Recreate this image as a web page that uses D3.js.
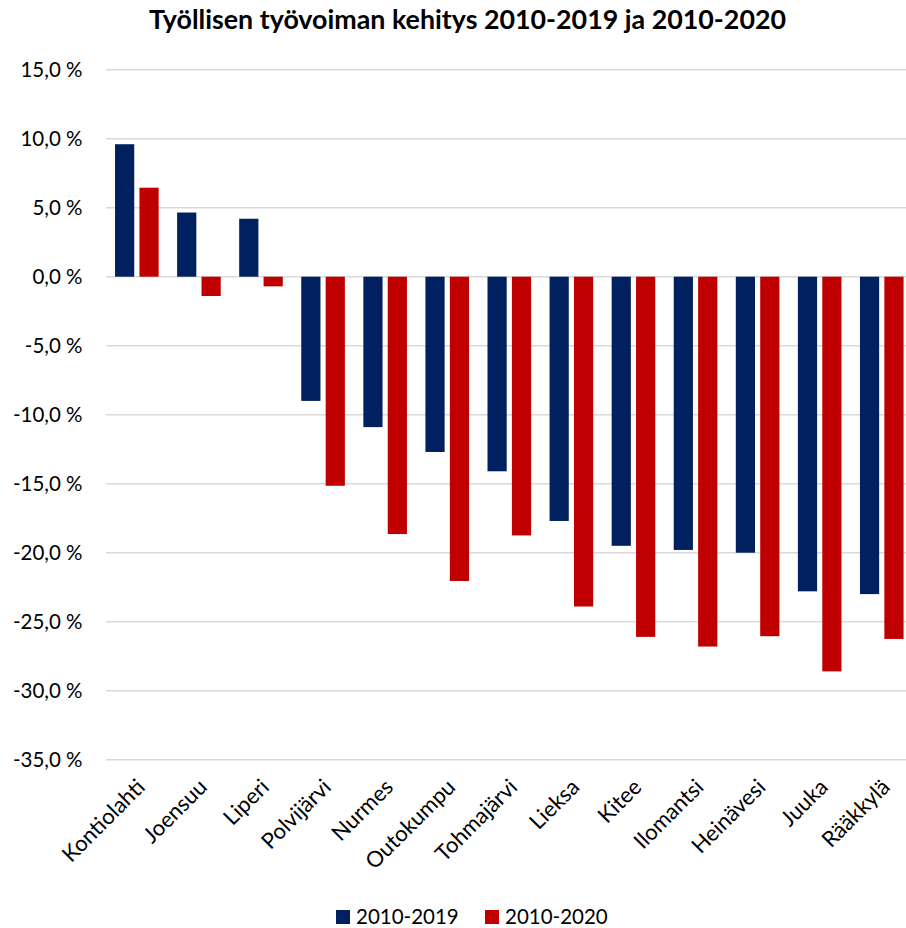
<!DOCTYPE html>
<html>
<head>
<meta charset="utf-8">
<script src="https://cdn.jsdelivr.net/npm/d3@7"></script>
<style>
  html, body { margin: 0; padding: 0; background: #ffffff; }
  svg { display: block; }
  text { font-family: Lato, "Open Sans", sans-serif; fill: #000; }
</style>
</head>
<body>
<svg id="chart" width="906" height="928"></svg>
<script>
const categories = ["Kontiolahti", "Joensuu", "Liperi", "Polvijärvi", "Nurmes", "Outokumpu", "Tohmajärvi", "Lieksa", "Kitee", "Ilomantsi", "Heinävesi", "Juuka", "Rääkkylä"];
const series2019 = [9.6, 4.65, 4.2, -9.0, -10.9, -12.7, -14.1, -17.7, -19.5, -19.8, -20.0, -22.8, -23.0];
const series2020 = [6.45, -1.4, -0.7, -15.15, -18.65, -22.05, -18.75, -23.9, -26.1, -26.8, -26.05, -28.6, -26.25];
const seriesNames = ["2010-2019", "2010-2020"];
const seriesColors = ["#002060", "#C00000"];
const yTicks = [15, 10, 5, 0, -5, -10, -15, -20, -25, -30, -35];
const title = "Työllisen työvoiman kehitys 2010-2019 ja 2010-2020";

const svg = d3.select("#chart");
const plot = { left: 105.8, right: 912.8, top: 69.7, bottom: 759.7 };

const y = d3.scaleLinear().domain([-35, 15]).range([plot.bottom, plot.top]);
const x = d3.scaleBand().domain(categories).range([plot.left, plot.right]).paddingInner(0).paddingOuter(0);
const barW = 19.2, barOffset = 24.4;
const groupW = barOffset + barW;

// title
svg.append("text")
  .attr("x", 467.5).attr("y", 29)
  .attr("text-anchor", "middle")
  .style("font-weight", "bold")
  .style("font-size", "26.8px")
  .text(title);

// y axis labels
const yAxis = d3.axisLeft(y).tickValues(yTicks).tickSize(0).tickPadding(0)
  .tickFormat(d => d3.format(".1f")(d).replace(".", ",").replace("−", "-") + " %");
const gAxis = svg.append("g").attr("transform", `translate(82.5,0)`).call(yAxis);
gAxis.select(".domain").remove();
gAxis.selectAll("text").style("font-size", "20.5px").attr("dy", "0.35em").style("font-family", "Lato, sans-serif");

// gridlines
svg.append("g").selectAll("line").data(yTicks).join("line")
  .attr("x1", 106).attr("x2", 906)
  .attr("y1", d => y(d)).attr("y2", d => y(d))
  .attr("stroke", "#d9d9d9").attr("stroke-width", 1.5);

// bars
const data = categories.map((c, i) => ({ c, vals: [series2019[i], series2020[i]] }));
const groups = svg.append("g").selectAll("g").data(data).join("g")
  .attr("transform", d => `translate(${x(d.c) + (x.bandwidth() - groupW) / 2},0)`);
groups.selectAll("rect").data(d => d.vals.map((v, k) => ({ v, k }))).join("rect")
  .attr("x", d => d.k * barOffset)
  .attr("width", barW)
  .attr("y", d => Math.min(y(d.v), y(0)))
  .attr("height", d => Math.abs(y(d.v) - y(0)))
  .attr("fill", d => seriesColors[d.k]);

// x labels
svg.append("g").selectAll("text").data(categories).join("text")
  .attr("transform", d => `translate(${x(d) + x.bandwidth() / 2 + 4},783) rotate(-45)`)
  .attr("text-anchor", "end")
  .attr("dy", "0.35em")
  .style("font-size", "22px")
  .text(d => d);

// legend
const legendItems = [{ x: 336, tx: 356 }, { x: 485, tx: 505 }];
const lg = svg.append("g");
seriesNames.forEach((n, i) => {
  lg.append("rect").attr("x", legendItems[i].x).attr("y", 910).attr("width", 14).attr("height", 14).attr("fill", seriesColors[i]);
  lg.append("text").attr("x", legendItems[i].tx).attr("y", 924).style("font-size", "20.5px").text(n);
});
</script>
</body>
</html>
